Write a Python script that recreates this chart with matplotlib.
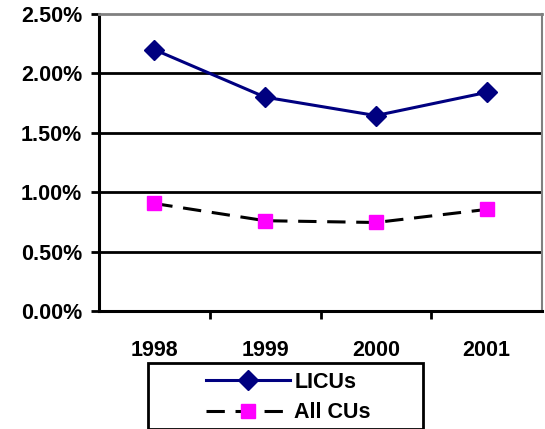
import matplotlib
matplotlib.use("Agg")
import matplotlib.pyplot as plt
from matplotlib.patches import Rectangle
from matplotlib.ticker import FuncFormatter

years = ["1998", "1999", "2000", "2001"]
licus = [2.20, 1.80, 1.645, 1.84]
all_cus = [0.905, 0.76, 0.745, 0.855]
y_ticks = [0.0, 0.5, 1.0, 1.5, 2.0, 2.5]

plt.rcParams['font.family'] = ['Liberation Sans', 'DejaVu Sans']
plt.rcParams['font.weight'] = 'bold'

FS = 15.5
W, H = 545, 429
fig = plt.figure(figsize=(W / 100, H / 100), dpi=100)
ax = fig.add_axes([99 / W, 1 - 311 / H, (542 - 99) / W, (311 - 14) / H])

x = list(range(len(years)))
ax.plot(x, licus, color='#000080', lw=2.2, marker='D', ms=10.5,
        markerfacecolor='#000080', markeredgecolor='#000080', label='LICUs', zorder=4)
ax.plot(x, all_cus, color='black', lw=2.2, dashes=(6, 3.5), marker='s', ms=10,
        markerfacecolor='#FF00FF', markeredgecolor='#FF00FF', label='All CUs', zorder=4)

ax.set_xlim(-0.5, len(years) - 0.5)
ax.set_ylim(0, 2.5)
ax.set_yticks(y_ticks)
ax.yaxis.set_major_formatter(FuncFormatter(lambda v, p: f"{v:.2f}%"))
for v in y_ticks[1:-1]:
    ax.axhline(v, color='black', lw=2, zorder=1)

ax.set_xticks(x)
ax.set_xticklabels(years)
ax.set_xticks([0.5, 1.5, 2.5], minor=True)
ax.tick_params(axis='x', which='major', length=0, pad=21, labelsize=FS)
ax.tick_params(axis='x', which='minor', length=6, width=2, direction='out')
ax.tick_params(axis='y', length=6, width=2, direction='out', pad=6, labelsize=FS)
for lab in ax.get_xticklabels() + ax.get_yticklabels():
    lab.set_fontweight('bold')

ax.spines['left'].set_linewidth(2.2)
ax.spines['bottom'].set_linewidth(2.2)
ax.spines['top'].set_color('#808080')
ax.spines['top'].set_linewidth(2)
ax.spines['right'].set_color('#808080')
ax.spines['right'].set_linewidth(1.5)

# legend frame
fig.patches.append(Rectangle((148 / W, 0), (423 - 148) / W, 1 - 363 / H,
                             transform=fig.transFigure, fill=False, edgecolor='black',
                             lw=2, clip_on=False))
leg = fig.legend(loc='upper left', bbox_to_anchor=(206 / W, 1 - 372 / H),
                 frameon=False, borderpad=0, borderaxespad=0, handlelength=3.9,
                 handletextpad=0.2, labelspacing=0.42,
                 prop={'size': FS, 'weight': 'bold'})

fig.savefig("out.png", dpi=100)
